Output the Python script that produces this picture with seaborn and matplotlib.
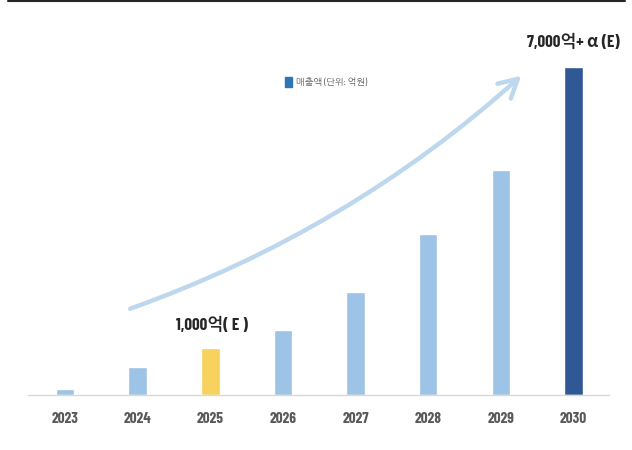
import matplotlib
matplotlib.use("Agg")
import matplotlib.pyplot as plt
import seaborn as sns
import pandas as pd
from matplotlib.lines import Line2D
from matplotlib.patches import Rectangle

years = ["2023", "2024", "2025", "2026", "2027", "2028", "2029", "2030"]
sales = [130, 600, 1000, 1390, 2200, 3435, 4800, 7000]
bar_colors = ["#9DC3E6", "#9DC3E6", "#F7D25E", "#9DC3E6", "#9DC3E6", "#9DC3E6", "#9DC3E6", "#2F5895"]
legend_label = "매출액 (단위: 억원)"
note_2025 = "1,000억( E )"
note_2030 = "7,000억+ α (E)"

sns.set_theme(style="white")
FONTS = ["Barlow Condensed", "NanumGothic", "Noto Sans CJK JP", "DejaVu Sans"]
plt.rcParams["font.family"] = FONTS

df = pd.DataFrame({"year": years, "sales": sales})

fig = plt.figure(figsize=(6.32, 4.5), dpi=100)
ax = fig.add_axes([28 / 632, 55 / 450, 581 / 632, 375 / 450])

sns.barplot(data=df, x="year", y="sales", hue="year", palette=bar_colors,
            legend=False, width=0.255, ax=ax, saturation=1)

ax.set_xlim(-0.51, 7.49)
ax.set_ylim(0, 8000)
ax.set_xlabel("")
ax.set_ylabel("")
ax.set_yticks([])
for s in ["top", "right", "left"]:
    ax.spines[s].set_visible(False)
ax.spines["bottom"].set_color("#D9D9D9")
ax.spines["bottom"].set_linewidth(1.0)
ax.tick_params(axis="x", length=0, pad=12, labelsize=11, labelcolor="#595959")
for t in ax.get_xticklabels():
    t.set_fontweight("bold")

# growth arrow
ax.annotate("", xy=(6.31, 6850), xytext=(0.86, 1820),
            arrowprops=dict(arrowstyle="->,head_length=1.1,head_width=0.6",
                            color="#BDD7EE", lw=3.2,
                            connectionstyle="arc3,rad=0.1"))

# annotations
ax.text(2.02, 1494, note_2025, ha="center", va="center", fontsize=12.2,
        fontweight="bold", color="#262626")
ax.text(7, 7533, note_2030, ha="center", va="center", fontsize=12.2,
        fontweight="bold", color="#262626")

# legend
fig.patches.append(Rectangle((285 / 632, 1 - 87 / 450), 7 / 632, 10 / 450,
                             transform=fig.transFigure, color="#2E75B6"))
fig.text(296 / 632, 1 - 82 / 450, legend_label, ha="left", va="center",
         fontsize=6.7, color="#595959")

# top rule
fig.add_artist(Line2D([8 / 632, 625 / 632], [0.998, 0.998],
                      transform=fig.transFigure, color="#262626", lw=1.5))

fig.savefig("out.png", dpi=100)
